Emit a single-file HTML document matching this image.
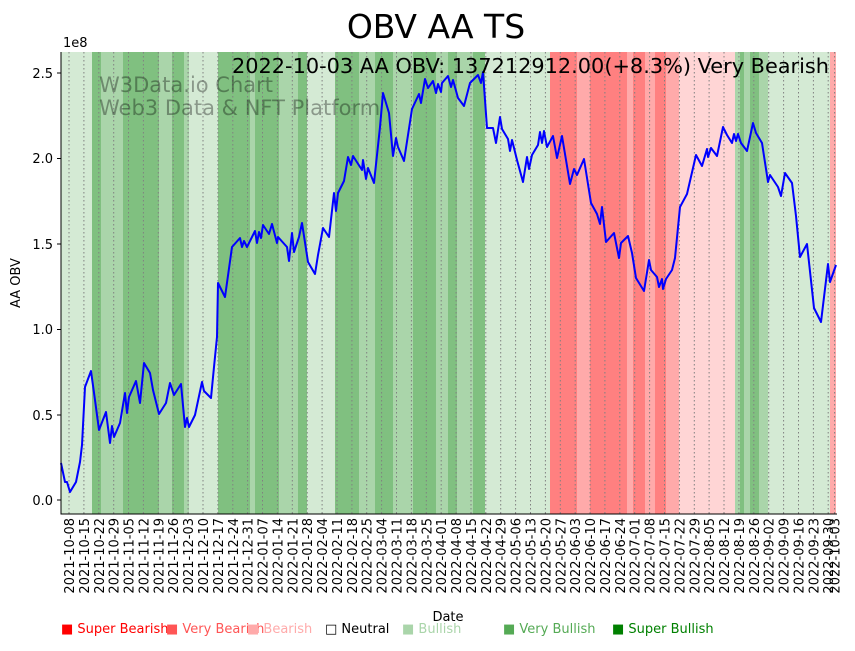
<!DOCTYPE html>
<html><head><meta charset="utf-8"><style>
body{margin:0;background:#fff;}
svg text{font-family:"DejaVu Sans","Liberation Sans",sans-serif;}
</style></head><body>
<svg width="855" height="646" viewBox="0 0 855 646" xmlns="http://www.w3.org/2000/svg">
<rect width="855" height="646" fill="#fff"/>
<g>
<rect x="61" y="52" width="31" height="462" fill="#d4ead4"/>
<rect x="92" y="52" width="9" height="462" fill="#80c080"/>
<rect x="101" y="52" width="22" height="462" fill="#aad5aa"/>
<rect x="123" y="52" width="36" height="462" fill="#80c080"/>
<rect x="159" y="52" width="13" height="462" fill="#aad5aa"/>
<rect x="172" y="52" width="12" height="462" fill="#80c080"/>
<rect x="184" y="52" width="5" height="462" fill="#aad5aa"/>
<rect x="189" y="52" width="29" height="462" fill="#d4ead4"/>
<rect x="218" y="52" width="32" height="462" fill="#80c080"/>
<rect x="250" y="52" width="5" height="462" fill="#aad5aa"/>
<rect x="255" y="52" width="24" height="462" fill="#80c080"/>
<rect x="279" y="52" width="19" height="462" fill="#aad5aa"/>
<rect x="298" y="52" width="9" height="462" fill="#80c080"/>
<rect x="307" y="52" width="28" height="462" fill="#d4ead4"/>
<rect x="335" y="52" width="24" height="462" fill="#80c080"/>
<rect x="359" y="52" width="16" height="462" fill="#aad5aa"/>
<rect x="375" y="52" width="18" height="462" fill="#80c080"/>
<rect x="393" y="52" width="20" height="462" fill="#aad5aa"/>
<rect x="413" y="52" width="23" height="462" fill="#80c080"/>
<rect x="436" y="52" width="12" height="462" fill="#aad5aa"/>
<rect x="448" y="52" width="9" height="462" fill="#80c080"/>
<rect x="457" y="52" width="16" height="462" fill="#aad5aa"/>
<rect x="473" y="52" width="12" height="462" fill="#80c080"/>
<rect x="485" y="52" width="65" height="462" fill="#d4ead4"/>
<rect x="550" y="52" width="27" height="462" fill="#ff8080"/>
<rect x="577" y="52" width="13" height="462" fill="#ffaaaa"/>
<rect x="590" y="52" width="37" height="462" fill="#ff8080"/>
<rect x="627" y="52" width="6" height="462" fill="#ffaaaa"/>
<rect x="633" y="52" width="12" height="462" fill="#ff8080"/>
<rect x="645" y="52" width="10" height="462" fill="#ffaaaa"/>
<rect x="655" y="52" width="11" height="462" fill="#ff8080"/>
<rect x="666" y="52" width="13" height="462" fill="#ffaaaa"/>
<rect x="679" y="52" width="56" height="462" fill="#ffd5d5"/>
<rect x="735" y="52" width="5" height="462" fill="#aad5aa"/>
<rect x="740" y="52" width="4" height="462" fill="#80c080"/>
<rect x="744" y="52" width="6" height="462" fill="#aad5aa"/>
<rect x="750" y="52" width="9" height="462" fill="#80c080"/>
<rect x="759" y="52" width="9" height="462" fill="#aad5aa"/>
<rect x="768" y="52" width="62" height="462" fill="#d4ead4"/>
<rect x="830" y="52" width="6" height="462" fill="#ffaaaa"/>
</g>
<g stroke="#808080" stroke-width="1" stroke-dasharray="1.5,2.5">
<line x1="69" y1="52" x2="69" y2="514"/><line x1="83.9" y1="52" x2="83.9" y2="514"/><line x1="98.8" y1="52" x2="98.8" y2="514"/><line x1="113.7" y1="52" x2="113.7" y2="514"/><line x1="128.5" y1="52" x2="128.5" y2="514"/><line x1="143.4" y1="52" x2="143.4" y2="514"/><line x1="158.3" y1="52" x2="158.3" y2="514"/><line x1="173.2" y1="52" x2="173.2" y2="514"/><line x1="188.1" y1="52" x2="188.1" y2="514"/><line x1="203" y1="52" x2="203" y2="514"/><line x1="217.9" y1="52" x2="217.9" y2="514"/><line x1="232.8" y1="52" x2="232.8" y2="514"/><line x1="247.6" y1="52" x2="247.6" y2="514"/><line x1="262.5" y1="52" x2="262.5" y2="514"/><line x1="277.4" y1="52" x2="277.4" y2="514"/><line x1="292.3" y1="52" x2="292.3" y2="514"/><line x1="307.2" y1="52" x2="307.2" y2="514"/><line x1="322.1" y1="52" x2="322.1" y2="514"/><line x1="337" y1="52" x2="337" y2="514"/><line x1="351.9" y1="52" x2="351.9" y2="514"/><line x1="366.7" y1="52" x2="366.7" y2="514"/><line x1="381.6" y1="52" x2="381.6" y2="514"/><line x1="396.5" y1="52" x2="396.5" y2="514"/><line x1="411.4" y1="52" x2="411.4" y2="514"/><line x1="426.3" y1="52" x2="426.3" y2="514"/><line x1="441.2" y1="52" x2="441.2" y2="514"/><line x1="456.1" y1="52" x2="456.1" y2="514"/><line x1="471" y1="52" x2="471" y2="514"/><line x1="485.8" y1="52" x2="485.8" y2="514"/><line x1="500.7" y1="52" x2="500.7" y2="514"/><line x1="515.6" y1="52" x2="515.6" y2="514"/><line x1="530.5" y1="52" x2="530.5" y2="514"/><line x1="545.4" y1="52" x2="545.4" y2="514"/><line x1="560.3" y1="52" x2="560.3" y2="514"/><line x1="575.2" y1="52" x2="575.2" y2="514"/><line x1="590.1" y1="52" x2="590.1" y2="514"/><line x1="604.9" y1="52" x2="604.9" y2="514"/><line x1="619.8" y1="52" x2="619.8" y2="514"/><line x1="634.7" y1="52" x2="634.7" y2="514"/><line x1="649.6" y1="52" x2="649.6" y2="514"/><line x1="664.5" y1="52" x2="664.5" y2="514"/><line x1="679.4" y1="52" x2="679.4" y2="514"/><line x1="694.3" y1="52" x2="694.3" y2="514"/><line x1="709.1" y1="52" x2="709.1" y2="514"/><line x1="724" y1="52" x2="724" y2="514"/><line x1="738.9" y1="52" x2="738.9" y2="514"/><line x1="753.8" y1="52" x2="753.8" y2="514"/><line x1="768.7" y1="52" x2="768.7" y2="514"/><line x1="783.6" y1="52" x2="783.6" y2="514"/><line x1="798.5" y1="52" x2="798.5" y2="514"/><line x1="813.4" y1="52" x2="813.4" y2="514"/><line x1="828.2" y1="52" x2="828.2" y2="514"/><line x1="834.6" y1="52" x2="834.6" y2="514"/>
</g>
<text x="99" y="92" font-size="21" fill="#000" fill-opacity="0.35">W3Data.io Chart</text>
<text x="99" y="115" font-size="21" fill="#000" fill-opacity="0.35">Web3 Data &amp; NFT Platform</text>
<polyline fill="none" stroke="#0000ff" stroke-width="2" stroke-linejoin="round" points="61,463 65,482 67,482 70,492 76,482 80,462 82,445 85,387 91,371 95,400 99,430 106,412 110,443 112,426 114,437 120,423 125,393 127,413 129,397 136,381 140,403 144,363 150,373 153,390 159,414 166,403 170,383 174,395 181,384 185,427 187,418 189,427 195,415 202,382 204,391 211,398 214,367 217,337 218,283 225,297 232,247 240,238 242,247 244,241 247,247 255,231 257,243 259,232 261,238 263,225 269,234 272,224 277,243 278,237 287,247 289,261 292,233 294,252 299,237 302,223 308,262 315,274 318,255 323,228 329,237 334,193 336,211 338,193 344,181 348,157 351,165 353,156 362,170 363,160 366,179 368,168 374,183 380,127 383,93 389,113 393,156 396,138 398,147 404,161 412,109 419,94 421,103 425,79 428,88 433,81 436,93 438,84 441,92 442,83 448,76 451,87 453,80 458,98 464,106 470,83 478,75 481,83 483,72 487,128 493,128 496,143 500,117 502,129 508,139 510,151 512,140 517,160 523,182 527,157 529,169 532,155 538,145 540,132 542,143 544,131 547,147 553,136 557,158 562,136 570,184 574,169 577,175 584,159 591,203 597,214 600,224 602,207 606,242 614,233 619,258 621,243 628,236 632,253 636,278 644,291 649,260 651,270 657,277 659,287 662,279 663,289 666,279 672,270 675,258 680,207 687,194 696,155 702,166 707,149 708,157 711,148 717,156 723,127 727,135 732,143 734,134 736,141 738,134 741,143 747,151 753,123 756,133 762,143 768,182 770,175 778,187 781,196 785,173 792,183 796,216 800,257 807,244 814,308 821,322 828,264 830,282 836,265"/>
<line x1="61" y1="52" x2="61" y2="514.5" stroke="#000" stroke-width="1"/>
<line x1="60.5" y1="514" x2="837" y2="514" stroke="#000" stroke-width="1"/>
<g stroke="#000">
<line x1="57" y1="500" x2="61" y2="500"/><line x1="57" y1="415" x2="61" y2="415"/><line x1="57" y1="329.5" x2="61" y2="329.5"/><line x1="57" y1="244" x2="61" y2="244"/><line x1="57" y1="158.5" x2="61" y2="158.5"/><line x1="57" y1="73" x2="61" y2="73"/>
</g>
<g font-size="13" text-anchor="end" fill="#000">
<text x="53" y="505">0.0</text><text x="53" y="420">0.5</text><text x="53" y="334">1.0</text><text x="53" y="249">1.5</text><text x="53" y="163">2.0</text><text x="53" y="78">2.5</text>
</g>
<text x="63" y="47" font-size="13">1e8</text>
<text x="20" y="283" font-size="13" text-anchor="middle" transform="rotate(-90 20 283)">AA OBV</text>
<text x="436" y="38" font-size="33" text-anchor="middle">OBV AA TS</text>
<text x="232" y="73" font-size="20.5" textLength="597" lengthAdjust="spacingAndGlyphs">2022-10-03 AA OBV: 137212912.00(+8.3%) Very Bearish</text>
<g font-size="13" text-anchor="end">
<text transform="translate(74,518) rotate(-90)">2021-10-08</text>
<text transform="translate(88.9,518) rotate(-90)">2021-10-15</text>
<text transform="translate(103.8,518) rotate(-90)">2021-10-22</text>
<text transform="translate(118.7,518) rotate(-90)">2021-10-29</text>
<text transform="translate(133.5,518) rotate(-90)">2021-11-05</text>
<text transform="translate(148.4,518) rotate(-90)">2021-11-12</text>
<text transform="translate(163.3,518) rotate(-90)">2021-11-19</text>
<text transform="translate(178.2,518) rotate(-90)">2021-11-26</text>
<text transform="translate(193.1,518) rotate(-90)">2021-12-03</text>
<text transform="translate(208,518) rotate(-90)">2021-12-10</text>
<text transform="translate(222.9,518) rotate(-90)">2021-12-17</text>
<text transform="translate(237.8,518) rotate(-90)">2021-12-24</text>
<text transform="translate(252.6,518) rotate(-90)">2021-12-31</text>
<text transform="translate(267.5,518) rotate(-90)">2022-01-07</text>
<text transform="translate(282.4,518) rotate(-90)">2022-01-14</text>
<text transform="translate(297.3,518) rotate(-90)">2022-01-21</text>
<text transform="translate(312.2,518) rotate(-90)">2022-01-28</text>
<text transform="translate(327.1,518) rotate(-90)">2022-02-04</text>
<text transform="translate(342,518) rotate(-90)">2022-02-11</text>
<text transform="translate(356.9,518) rotate(-90)">2022-02-18</text>
<text transform="translate(371.7,518) rotate(-90)">2022-02-25</text>
<text transform="translate(386.6,518) rotate(-90)">2022-03-04</text>
<text transform="translate(401.5,518) rotate(-90)">2022-03-11</text>
<text transform="translate(416.4,518) rotate(-90)">2022-03-18</text>
<text transform="translate(431.3,518) rotate(-90)">2022-03-25</text>
<text transform="translate(446.2,518) rotate(-90)">2022-04-01</text>
<text transform="translate(461.1,518) rotate(-90)">2022-04-08</text>
<text transform="translate(476,518) rotate(-90)">2022-04-15</text>
<text transform="translate(490.8,518) rotate(-90)">2022-04-22</text>
<text transform="translate(505.7,518) rotate(-90)">2022-04-29</text>
<text transform="translate(520.6,518) rotate(-90)">2022-05-06</text>
<text transform="translate(535.5,518) rotate(-90)">2022-05-13</text>
<text transform="translate(550.4,518) rotate(-90)">2022-05-20</text>
<text transform="translate(565.3,518) rotate(-90)">2022-05-27</text>
<text transform="translate(580.2,518) rotate(-90)">2022-06-03</text>
<text transform="translate(595.1,518) rotate(-90)">2022-06-10</text>
<text transform="translate(609.9,518) rotate(-90)">2022-06-17</text>
<text transform="translate(624.8,518) rotate(-90)">2022-06-24</text>
<text transform="translate(639.7,518) rotate(-90)">2022-07-01</text>
<text transform="translate(654.6,518) rotate(-90)">2022-07-08</text>
<text transform="translate(669.5,518) rotate(-90)">2022-07-15</text>
<text transform="translate(684.4,518) rotate(-90)">2022-07-22</text>
<text transform="translate(699.3,518) rotate(-90)">2022-07-29</text>
<text transform="translate(714.1,518) rotate(-90)">2022-08-05</text>
<text transform="translate(729,518) rotate(-90)">2022-08-12</text>
<text transform="translate(743.9,518) rotate(-90)">2022-08-19</text>
<text transform="translate(758.8,518) rotate(-90)">2022-08-26</text>
<text transform="translate(773.7,518) rotate(-90)">2022-09-02</text>
<text transform="translate(788.6,518) rotate(-90)">2022-09-09</text>
<text transform="translate(803.5,518) rotate(-90)">2022-09-16</text>
<text transform="translate(818.4,518) rotate(-90)">2022-09-23</text>
<text transform="translate(833.2,518) rotate(-90)">2022-09-30</text>
<text transform="translate(839.6,518) rotate(-90)">2022-10-03</text>
</g>
<text x="448" y="621" font-size="13" text-anchor="middle">Date</text>
<g font-size="13">
<text x="61" y="633" fill="#ff0000">■ Super Bearish</text>
<text x="166" y="633" fill="#ff5555">■ Very Bearish</text>
<text x="247" y="633" fill="#ffaaaa">■ Bearish</text>
<text x="325" y="633" fill="#000">□ Neutral</text>
<text x="402" y="633" fill="#aad5aa">■ Bullish</text>
<text x="503" y="633" fill="#55aa55">■ Very Bullish</text>
<text x="612" y="633" fill="#008000">■ Super Bullish</text>
</g>
</svg>
</body></html>
